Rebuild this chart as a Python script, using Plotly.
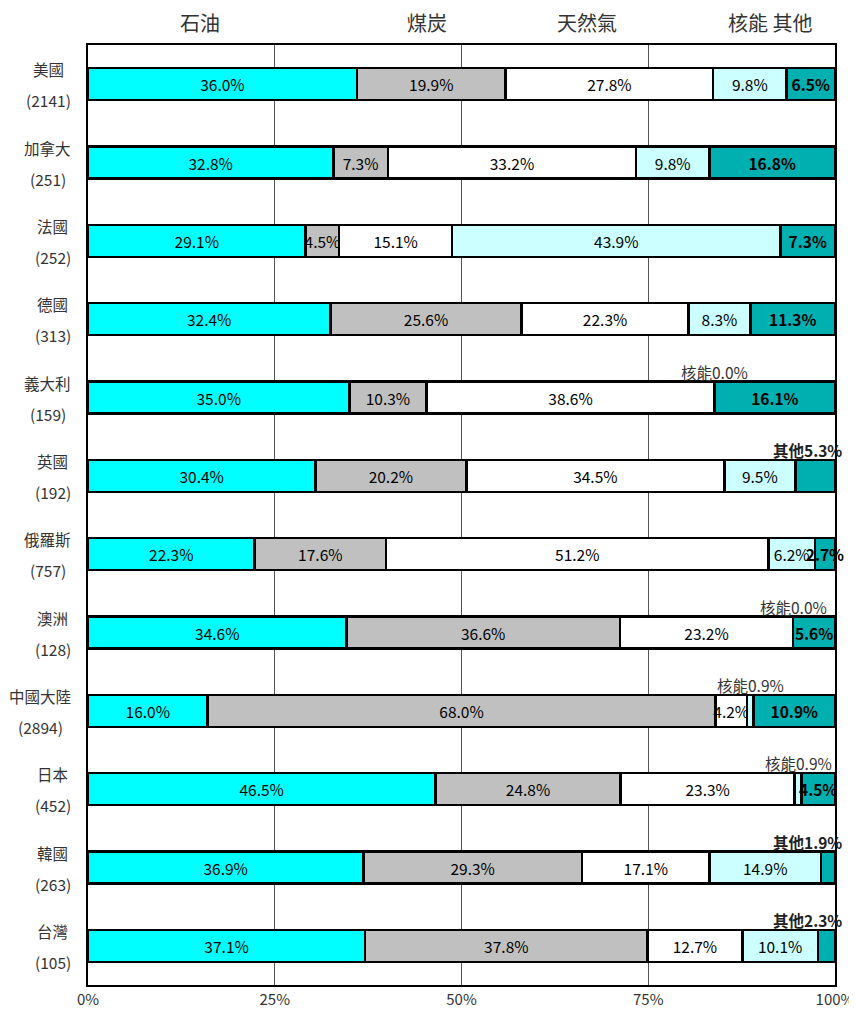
import plotly.graph_objects as go

countries = ["美國", "加拿大", "法國", "德國", "義大利", "英國", "俄羅斯", "澳洲", "中國大陸", "日本", "韓國", "台灣"]
totals = ["(2141)", "(251)", "(252)", "(313)", "(159)", "(192)", "(757)", "(128)", "(2894)", "(452)", "(263)", "(105)"]

oil     = [36.0, 32.8, 29.1, 32.4, 35.0, 30.4, 22.3, 34.6, 16.0, 46.5, 36.9, 37.1]
coal    = [19.9,  7.3,  4.5, 25.6, 10.3, 20.2, 17.6, 36.6, 68.0, 24.8, 29.3, 37.8]
gas     = [27.8, 33.2, 15.1, 22.3, 38.6, 34.5, 51.2, 23.2,  4.2, 23.3, 17.1, 12.7]
nuclear = [ 9.8,  9.8, 43.9,  8.3,  0.0,  9.5,  6.2,  0.0,  0.9,  0.9, 14.9, 10.1]
other   = [ 6.5, 16.8,  7.3, 11.3, 16.1,  5.3,  2.7,  5.6, 10.9,  4.5,  1.9,  2.3]

series_names = ["石油", "煤炭", "天然氣", "核能", "其他"]
header_text = ["石油", "煤炭", "天然氣", "核能 其他"]
header_pos = [15, 45.4, 66.8, 91.3]
tick_vals = [0, 25, 50, 75, 100]
tick_text = ["0%", "25%", "50%", "75%", "100%"]

# segments whose label is written above the bar instead of inside
above_labels = {("義大利", "核能"), ("澳洲", "核能"), ("中國大陸", "核能"), ("日本", "核能"),
                ("英國", "其他"), ("韓國", "其他"), ("台灣", "其他")}

colors = ["#00FFFF", "#C0C0C0", "#FFFFFF", "#CCFFFF", "#00B0B0"]
values = [oil, coal, gas, nuclear, other]

FONT = "Noto Sans CJK TC"
TS = 15.5
LS = 15.5


def text_width(s, size):
    w = 0.0
    for ch in s:
        if ord(ch) > 0x2E80:
            w += size
        elif ch in "()":
            w += 0.33 * size
        else:
            w += 0.56 * size
    return w


fig = go.Figure()
for name, vals, col in zip(series_names, values, colors):
    texts = []
    for c, v in zip(countries, vals):
        if (c, name) in above_labels:
            texts.append("")
        elif name == "其他":
            texts.append(f"<b>{v:.1f}%</b>")
        else:
            texts.append(f"{v:.1f}%")
    fig.add_trace(go.Bar(
        y=countries, x=vals, name=name, orientation="h",
        marker=dict(color=col, line=dict(color="#000000", width=2.5)),
        text=texts, textposition="inside", insidetextanchor="middle",
        textangle=0, textfont=dict(family=FONT, size=TS, color="#000000"),
        cliponaxis=False, hoverinfo="skip",
    ))

annotations = []
# labels above bars
for i, c in enumerate(countries):
    cum = 0
    for name, vals in zip(series_names, values):
        v = vals[i]
        if (c, name) in above_labels:
            if name == "其他":
                annotations.append(dict(x=100, y=c, xref="x", yref="y", text=f"<b>{name}{v:.1f}%</b>",
                                        showarrow=False, xanchor="right", yshift=26, xshift=9,
                                        font=dict(family=FONT, size=TS, color="#222222")))
            else:
                annotations.append(dict(x=cum + v / 2, y=c, xref="x", yref="y", text=f"{name}{v:.1f}%",
                                        showarrow=False, xanchor="center", yshift=26,
                                        font=dict(family=FONT, size=TS, color="#333333")))
        cum += v

# category labels (two lines, centred on each other, block right-aligned)
for c, t in zip(countries, totals):
    block_w = max(text_width(c, LS), text_width(t, LS))
    xs = -17 - block_w / 2
    annotations.append(dict(x=0, y=c, xref="paper", yref="y", text=c, showarrow=False,
                            xanchor="center", xshift=xs, yshift=15,
                            font=dict(family=FONT, size=LS, color="#333333")))
    annotations.append(dict(x=0, y=c, xref="paper", yref="y", text=t, showarrow=False,
                            xanchor="center", xshift=xs, yshift=-16,
                            font=dict(family=FONT, size=LS, color="#333333")))

# header texts
for h, p in zip(header_text, header_pos):
    annotations.append(dict(x=p, y=1, xref="x", yref="paper", text=h, showarrow=False,
                            xanchor="center", yanchor="bottom", yshift=6,
                            font=dict(family=FONT, size=20, color="#333333")))

fig.update_layout(
    barmode="stack", barnorm="percent",
    width=849, height=1003,
    margin=dict(l=80, r=22, t=37, b=26),
    paper_bgcolor="#FFFFFF", plot_bgcolor="#FFFFFF",
    showlegend=False, bargap=0.59,
    uniformtext=dict(minsize=TS, mode="show"),
    annotations=annotations,
    font=dict(family=FONT, size=14, color="#333333"),
)
fig.update_xaxes(range=[0, 100], tickvals=tick_vals, ticktext=tick_text,
                 showgrid=True, gridcolor="#555555", gridwidth=1,
                 showline=True, linecolor="#000000", linewidth=2, mirror=True,
                 zeroline=False, ticks="", automargin=False,
                 tickfont=dict(family=FONT, size=15, color="#333333"))
fig.update_yaxes(autorange="reversed", showticklabels=False, showgrid=False,
                 showline=True, linecolor="#000000", linewidth=2, mirror=True,
                 ticks="", automargin=False)

fig.write_html("out.html")
